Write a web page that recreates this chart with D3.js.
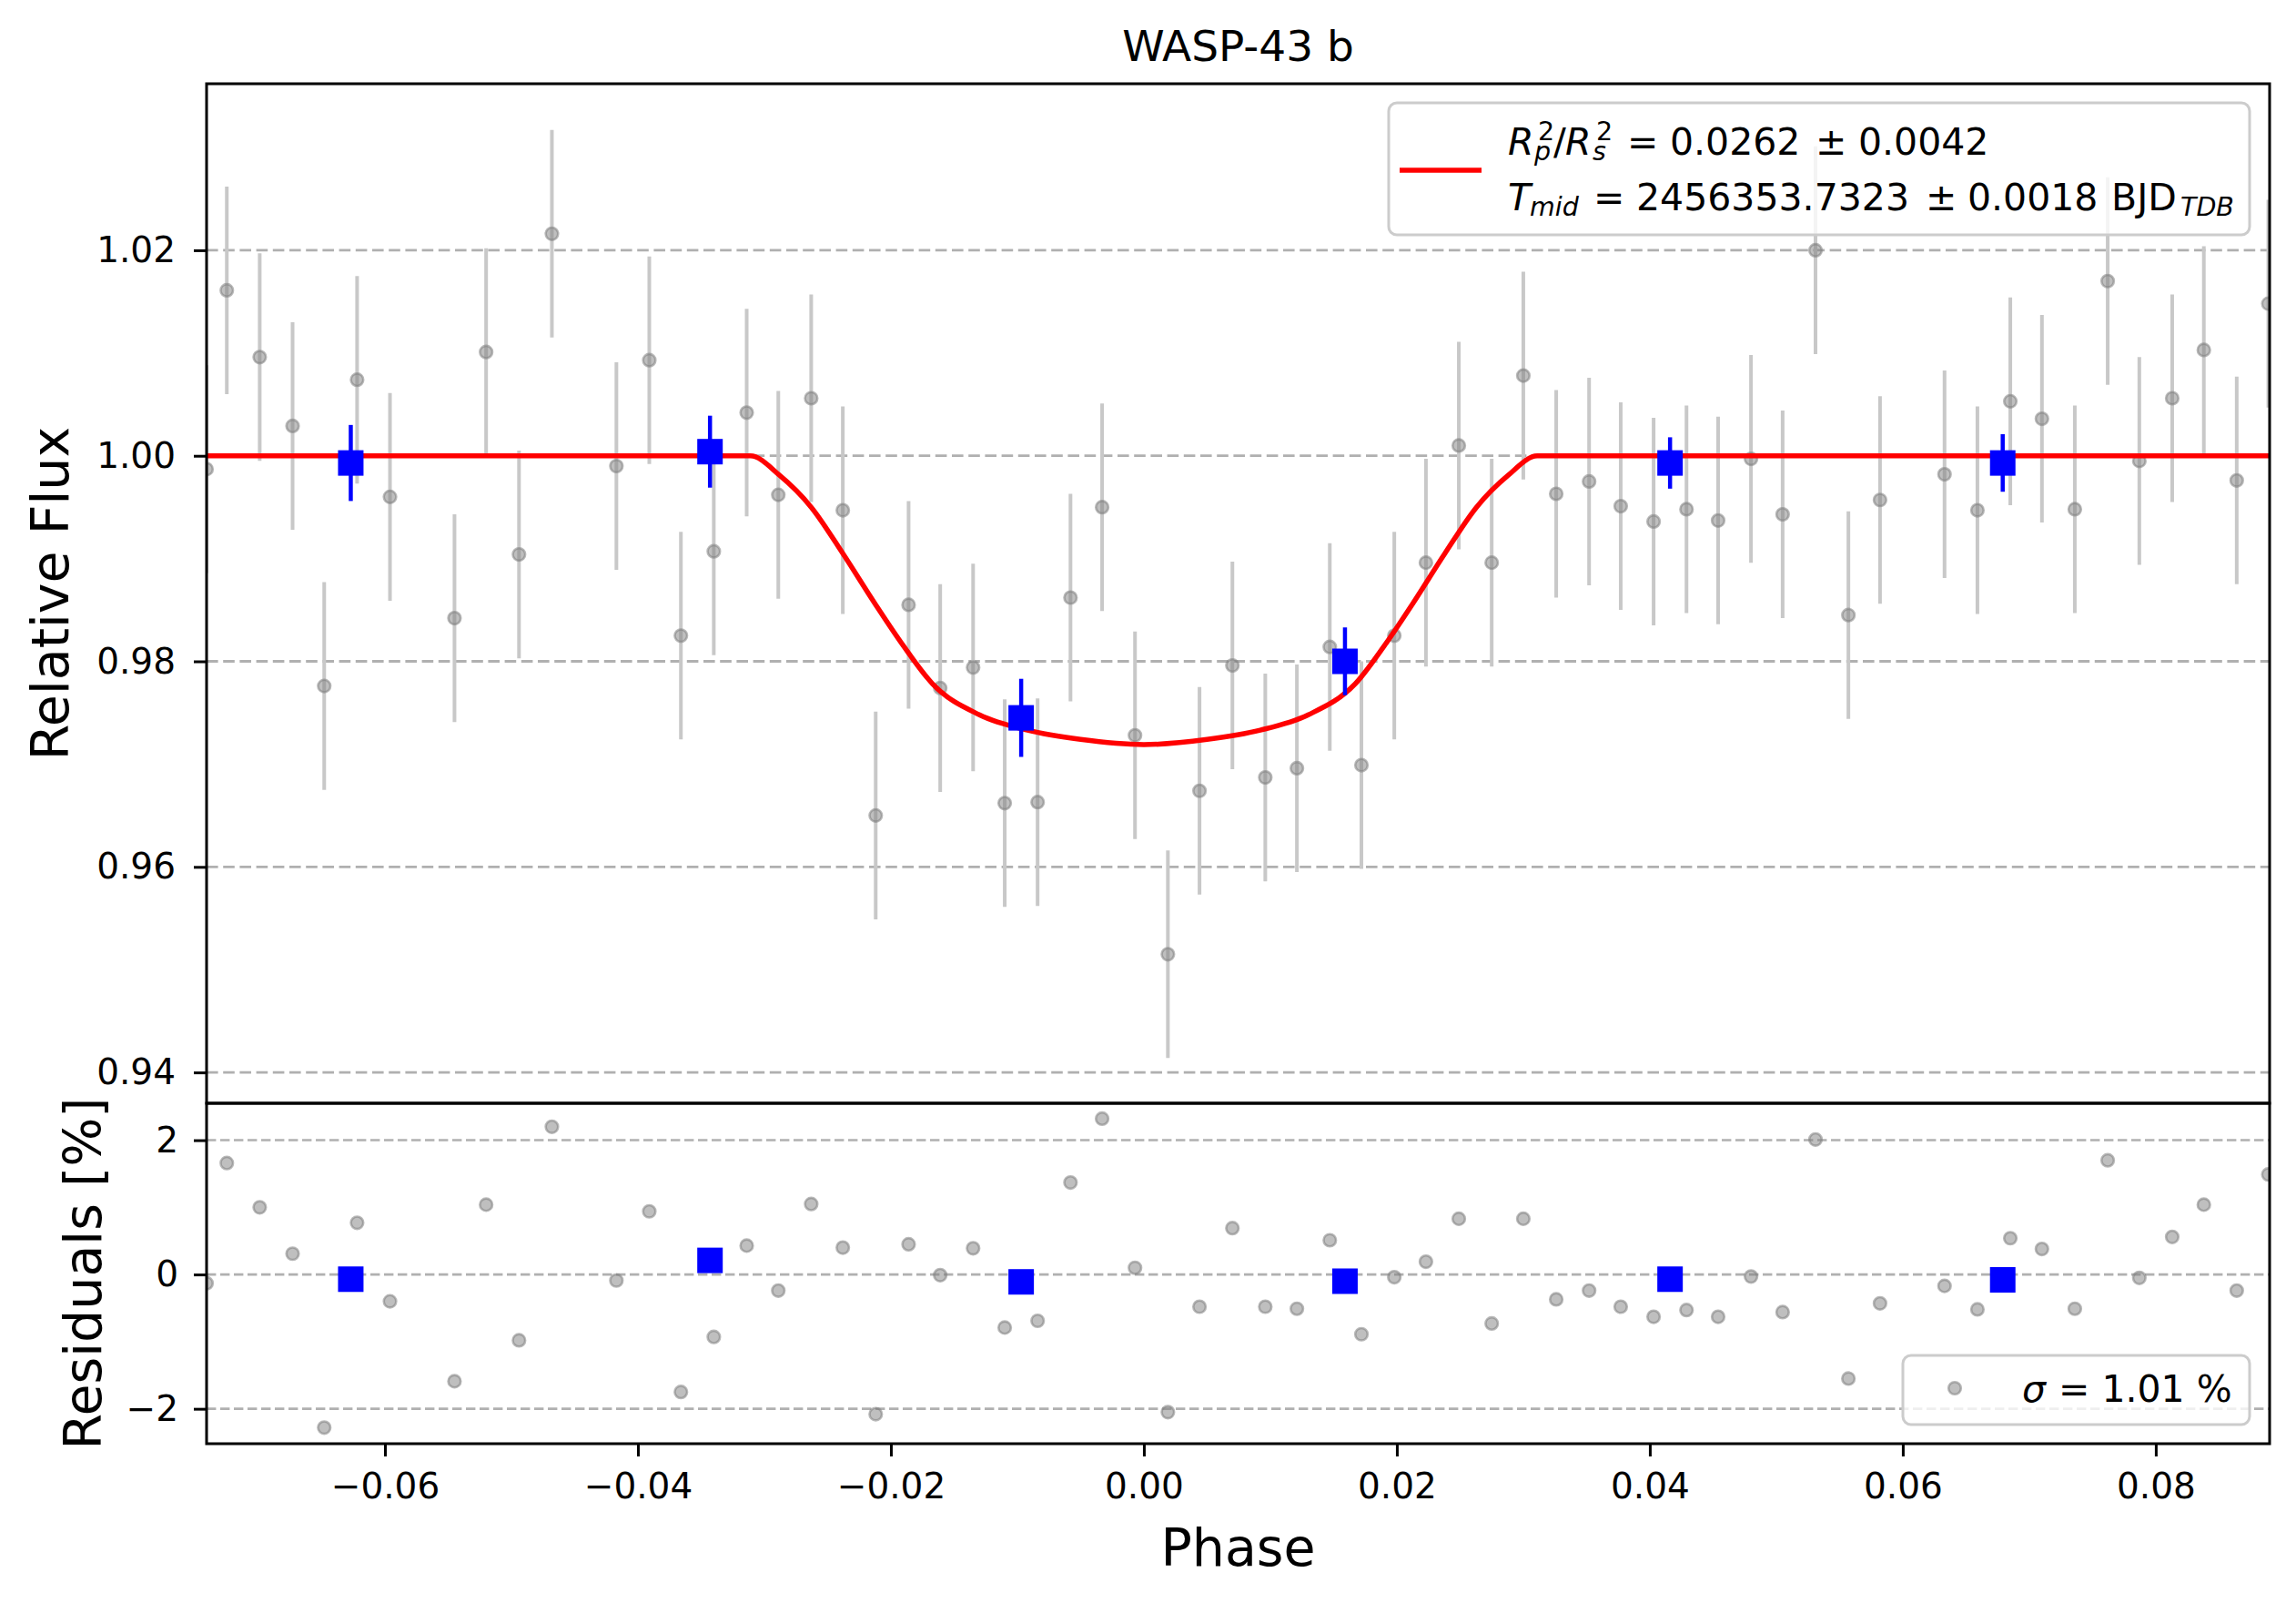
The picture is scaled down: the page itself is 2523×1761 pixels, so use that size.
<!DOCTYPE html>
<html><head><meta charset="utf-8">
<script src="https://cdn.jsdelivr.net/npm/d3@7"></script>
<style>body{margin:0;background:#fff}</style>
</head><body>
<svg id="chart" width="2523" height="1761"></svg>
<script>
// ---------------- data ----------------
const title = "WASP-43 b";
const phase = [-0.0741,-0.0725,-0.0699,-0.0673,-0.0648,-0.0622,-0.0596,-0.0545,-0.0520,-0.0494,-0.0468,-0.0417,-0.0391,-0.0366,-0.0340,-0.0314,-0.0289,-0.0263,-0.0238,-0.0212,-0.0186,-0.0161,-0.0135,-0.0110,-0.0084,-0.0058,-0.0033,-0.0007,0.0019,0.0044,0.0070,0.0096,0.0121,0.0147,0.0172,0.0198,0.0223,0.0249,0.0275,0.0300,0.0326,0.0352,0.0377,0.0403,0.0429,0.0454,0.0480,0.0505,0.0531,0.0557,0.0582,0.0633,0.0659,0.0685,0.0710,0.0736,0.0762,0.0787,0.0813,0.0838,0.0864,0.0889];
const flux = [0.9987,1.0161,1.0096,1.0029,0.9776,1.0074,0.9960,0.9842,1.0101,0.9904,1.0216,0.9990,1.0093,0.9825,0.9907,1.0042,0.9962,1.0056,0.9947,0.9650,0.9855,0.9774,0.9794,0.9662,0.9663,0.9862,0.9950,0.9728,0.9515,0.9674,0.9796,0.9687,0.9696,0.9814,0.9699,0.9825,0.9896,1.0010,0.9896,1.0078,0.9963,0.9975,0.9951,0.9936,0.9948,0.9937,0.9997,0.9943,1.0200,0.9845,0.9957,0.9982,0.9947,1.0053,1.0036,0.9948,1.0170,0.9995,1.0056,1.0103,0.9976,1.0148];
const fluxErr = 0.0101;
const residual = [-0.13,1.66,1.00,0.31,-2.28,0.77,-0.40,-1.59,1.04,-0.98,2.20,-0.09,0.94,-1.75,-0.93,0.43,-0.24,1.05,0.40,-2.08,0.45,-0.01,0.39,-0.79,-0.69,1.37,2.32,0.10,-2.05,-0.48,0.69,-0.48,-0.51,0.51,-0.89,-0.04,0.19,0.83,-0.73,0.83,-0.37,-0.24,-0.48,-0.63,-0.53,-0.63,-0.03,-0.56,2.01,-1.55,-0.43,-0.17,-0.52,0.54,0.38,-0.51,1.70,-0.05,0.56,1.04,-0.24,1.49];

const modelPhase = [-0.0741,-0.0311,-0.0288,-0.0263,-0.0238,-0.0213,-0.0190,-0.0167,-0.0130,-0.0092,-0.0050,0.0000,0.0050,0.0092,0.0130,0.0167,0.0190,0.0213,0.0238,0.0263,0.0288,0.0311,0.0890];
const modelFlux  = [1.0000,1.0000,0.9981,0.9950,0.9905,0.9857,0.9815,0.9778,0.9748,0.9733,0.9724,0.9719,0.9724,0.9733,0.9748,0.9778,0.9815,0.9857,0.9905,0.9950,0.9981,1.0000,1.0000];

const binPhase = [-0.0627,-0.0343,-0.0097,0.0159,0.0416,0.0679];
const binFlux  = [0.9993,1.0004,0.9745,0.9800,0.9993,0.9993];
const binErr   = [0.0037,0.0035,0.0038,0.0033,0.0025,0.0028];
const binResidual = [-0.07,0.21,-0.11,-0.10,-0.07,-0.08];

const xTicks = [-0.06,-0.04,-0.02,0.00,0.02,0.04,0.06,0.08];
const fluxTicks = [0.94,0.96,0.98,1.00,1.02];
const residualTicks = [-2,0,2];

const xDomain = [-0.0741, 0.0890];
const fluxDomain = [0.9370, 1.0362];
const residualDomain = [-2.52, 2.55];

const xLabel = "Phase", fluxLabel = "Relative Flux", residualLabel = "Residuals [%]";

// ---------------- layout ----------------
const FONT = "DejaVu Sans";
const L = 227, R = 2494, T1 = 92, B1 = 1212, T2 = 1212, B2 = 1586;
const svg = d3.select("#chart");
svg.append("rect").attr("width",2523).attr("height",1761).attr("fill","#fff");

const x = d3.scaleLinear().domain(xDomain).range([L, R]);
const y = d3.scaleLinear().domain(fluxDomain).range([B1, T1]);
const yr = d3.scaleLinear().domain(residualDomain).range([B2, T2]);

const defs = svg.append("defs");
defs.append("clipPath").attr("id","c1").append("rect").attr("x",L).attr("y",T1).attr("width",R-L).attr("height",B1-T1);
defs.append("clipPath").attr("id","c2").append("rect").attr("x",L).attr("y",T2).attr("width",R-L).attr("height",B2-T2);

// grid lines
svg.append("g").selectAll("line").data(fluxTicks).join("line")
  .attr("x1",L).attr("x2",R).attr("y1",d=>y(d)).attr("y2",d=>y(d))
  .attr("stroke","#b0b0b0").attr("stroke-width",2.8).attr("stroke-dasharray","12.6,5.6");
svg.append("g").selectAll("line").data(residualTicks).join("line")
  .attr("x1",L).attr("x2",R).attr("y1",d=>yr(d)).attr("y2",d=>yr(d))
  .attr("stroke","#b0b0b0").attr("stroke-width",2.6).attr("stroke-dasharray","10.4,4.6");

const pts = phase.map((p,i)=>({p, f:flux[i], r:residual[i]}));
const bins = binPhase.map((p,i)=>({p, f:binFlux[i], e:binErr[i], r:binResidual[i]}));

function grayDot(sel){
  return sel.attr("r",6.8).attr("fill","#808080").attr("fill-opacity",0.5)
    .attr("stroke","#808080").attr("stroke-opacity",0.55).attr("stroke-width",2.6);
}

// top panel data
const g1 = svg.append("g").attr("clip-path","url(#c1)");
g1.append("g").selectAll("line").data(pts).join("line")
  .attr("x1",d=>x(d.p)).attr("x2",d=>x(d.p))
  .attr("y1",d=>y(d.f-fluxErr)).attr("y2",d=>y(d.f+fluxErr))
  .attr("stroke","#c8c8c8").attr("stroke-width",4);
g1.append("g").selectAll("circle").data(pts).join("circle")
  .attr("cx",d=>x(d.p)).attr("cy",d=>y(d.f)).call(grayDot);
const model = modelPhase.map((p,i)=>[p, modelFlux[i]]);
g1.append("path").datum(model)
  .attr("d", d3.line().x(d=>x(d[0])).y(d=>y(d[1])).curve(d3.curveMonotoneX))
  .attr("fill","none").attr("stroke","#ff0000").attr("stroke-width",5.5);
g1.append("g").selectAll("line").data(bins).join("line")
  .attr("x1",d=>x(d.p)).attr("x2",d=>x(d.p))
  .attr("y1",d=>y(d.f-d.e)).attr("y2",d=>y(d.f+d.e))
  .attr("stroke","#0000ff").attr("stroke-width",4.5);
g1.append("g").selectAll("rect").data(bins).join("rect")
  .attr("x",d=>x(d.p)-14).attr("y",d=>y(d.f)-14).attr("width",28).attr("height",28)
  .attr("fill","#0000ff");

// residual panel data
const g2 = svg.append("g").attr("clip-path","url(#c2)");
g2.append("g").selectAll("circle").data(pts).join("circle")
  .attr("cx",d=>x(d.p)).attr("cy",d=>yr(d.r)).call(grayDot);
g2.append("g").selectAll("rect").data(bins).join("rect")
  .attr("x",d=>x(d.p)-14).attr("y",d=>yr(d.r)-14).attr("width",28).attr("height",28)
  .attr("fill","#0000ff");

// axes
function styleAxis(g){
  g.select(".domain").remove();
  g.selectAll(".tick line").attr("stroke","#000").attr("stroke-width",3);
  g.selectAll(".tick text").attr("font-family",FONT).attr("font-size",39).attr("fill","#000");
}
svg.append("g").attr("transform",`translate(${L},0)`)
  .call(d3.axisLeft(y).tickValues(fluxTicks).tickFormat(d3.format(".2f")).tickSize(14).tickPadding(20))
  .call(styleAxis);
svg.append("g").attr("transform",`translate(${L},0)`)
  .call(d3.axisLeft(yr).tickValues(residualTicks).tickFormat(d3.format("d")).tickSize(14).tickPadding(17))
  .call(styleAxis);
svg.append("g").attr("transform",`translate(0,${B2})`)
  .call(d3.axisBottom(x).tickValues(xTicks).tickFormat(d3.format(".2f")).tickSize(14).tickPadding(18))
  .call(styleAxis);

// frames
svg.append("rect").attr("x",L).attr("y",T1).attr("width",R-L).attr("height",B1-T1)
  .attr("fill","none").attr("stroke","#000").attr("stroke-width",3);
svg.append("rect").attr("x",L).attr("y",T2).attr("width",R-L).attr("height",B2-T2)
  .attr("fill","none").attr("stroke","#000").attr("stroke-width",3);

// labels
svg.append("text").attr("x",(L+R)/2).attr("y",67).attr("text-anchor","middle")
  .attr("font-family",FONT).attr("font-size",47).text(title);
svg.append("text").attr("x",(L+R)/2).attr("y",1720).attr("text-anchor","middle")
  .attr("font-family",FONT).attr("font-size",57).text(xLabel);
svg.append("text").attr("transform",`translate(75,${(T1+B1)/2}) rotate(-90)`).attr("text-anchor","middle")
  .attr("font-family",FONT).attr("font-size",57).text(fluxLabel);
svg.append("text").attr("transform",`translate(111,${(T2+B2)/2}) rotate(-90)`).attr("text-anchor","middle")
  .attr("font-family",FONT).attr("font-size",57).text(residualLabel);

// rich text: one <text> with positioned tspans
function richLine(g, baseY, parts){
  const t = g.append("text").attr("y",baseY).attr("font-family",FONT).attr("fill","#000")
    .style("white-space","pre");
  parts.forEach(p=>{
    t.append("tspan").attr("x",p.x).attr("y",baseY+(p.dy||0))
      .attr("font-size",p.s||41).attr("font-style",p.i?"italic":"normal").text(p.t);
  });
}

// legend 1
const lg = svg.append("g");
lg.append("rect").attr("x",1526).attr("y",113).attr("width",946).attr("height",145).attr("rx",9)
  .attr("fill","#fff").attr("fill-opacity",0.8).attr("stroke","#cccccc").attr("stroke-width",3);
lg.append("line").attr("x1",1538).attr("x2",1628).attr("y1",187).attr("y2",187)
  .attr("stroke","#ff0000").attr("stroke-width",5.5);
richLine(lg, 170, [
  {x:1657,t:"R",i:true},
  {x:1690,t:"2",s:28.5,dy:-16},
  {x:1686,t:"p",s:28.5,i:true,dy:6},
  {x:1707,t:"/"},
  {x:1720,t:"R",i:true},
  {x:1754,t:"2",s:28.5,dy:-16},
  {x:1750,t:"s",s:28.5,i:true,dy:6},
  {x:1788,t:"="},
  {x:1835,t:"0.0262"},
  {x:1995,t:"\u00b1"},
  {x:2042,t:"0.0042"}
]);
richLine(lg, 231, [
  {x:1657,t:"T",i:true},
  {x:1681,t:"mid",s:28.5,i:true,dy:6},
  {x:1751,t:"="},
  {x:1798,t:"2456353.7323"},
  {x:2116,t:"\u00b1"},
  {x:2162,t:"0.0018"},
  {x:2320,t:"BJD"},
  {x:2396,t:"TDB",s:28.5,i:true,dy:6}
]);

// legend 2
const lg2 = svg.append("g");
lg2.append("rect").attr("x",2091).attr("y",1489).attr("width",381).attr("height",76).attr("rx",9)
  .attr("fill","#fff").attr("fill-opacity",0.8).attr("stroke","#cccccc").attr("stroke-width",3);
lg2.append("circle").attr("cx",2148).attr("cy",1525).call(grayDot);
richLine(lg2, 1540, [
  {x:2222,t:"\u03c3",i:true},
  {x:2262,t:"= 1.01 %"}
]);
</script>
</body></html>
